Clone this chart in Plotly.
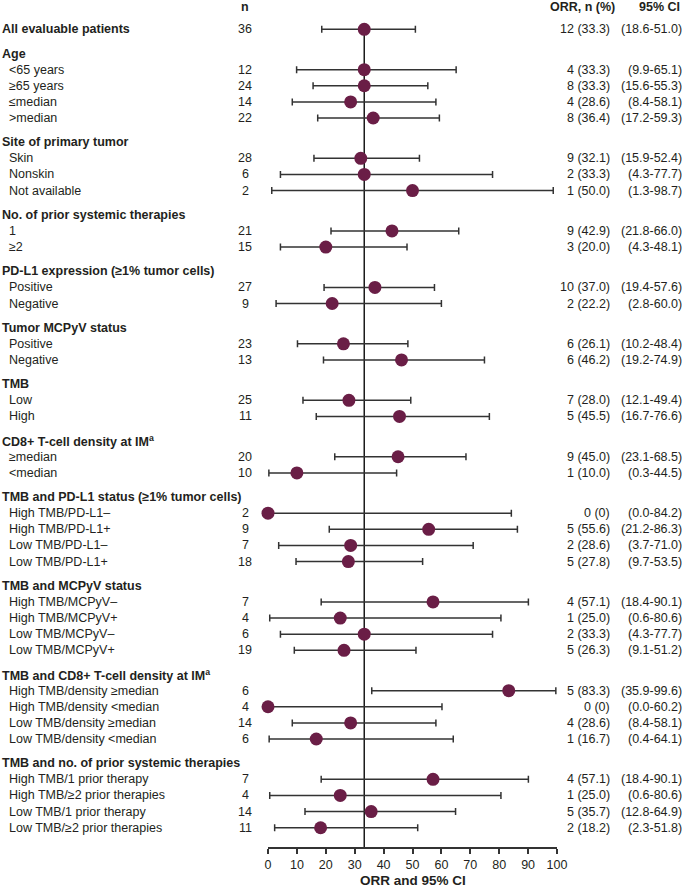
import plotly.graph_objects as go

# ---------------- data ----------------
group_titles = [
    "",
    "Age",
    "Site of primary tumor",
    "No. of prior systemic therapies",
    "PD-L1 expression (≥1% tumor cells)",
    "Tumor MCPyV status",
    "TMB",
    "CD8+ T-cell density at IM<sup>a</sup>",
    "TMB and PD-L1 status (≥1% tumor cells)",
    "TMB and MCPyV status",
    "TMB and CD8+ T-cell density at IM<sup>a</sup>",
    "TMB and no. of prior systemic therapies",
]

row_labels = [
    "All evaluable patients",
    "<65 years", "≥65 years", "≤median", ">median",
    "Skin", "Nonskin", "Not available",
    "1", "≥2",
    "Positive", "Negative",
    "Positive", "Negative",
    "Low", "High",
    "≥median", "<median",
    "High TMB/PD-L1–", "High TMB/PD-L1+", "Low TMB/PD-L1–", "Low TMB/PD-L1+",
    "High TMB/MCPyV–", "High TMB/MCPyV+", "Low TMB/MCPyV–", "Low TMB/MCPyV+",
    "High TMB/density ≥median", "High TMB/density <median",
    "Low TMB/density ≥median", "Low TMB/density <median",
    "High TMB/1 prior therapy", "High TMB/≥2 prior therapies",
    "Low TMB/1 prior therapy", "Low TMB/≥2 prior therapies",
]
row_group = [0, 1, 1, 1, 1, 2, 2, 2, 3, 3, 4, 4, 5, 5, 6, 6, 7, 7,
             8, 8, 8, 8, 9, 9, 9, 9, 10, 10, 10, 10, 11, 11, 11, 11]
row_n = [36, 12, 24, 14, 22, 28, 6, 2, 21, 15, 27, 9, 23, 13, 25, 11, 20, 10,
         2, 9, 7, 18, 7, 4, 6, 19, 6, 4, 14, 6, 7, 4, 14, 11]
row_resp = [12, 4, 8, 4, 8, 9, 2, 1, 9, 3, 10, 2, 6, 6, 7, 5, 9, 1,
            0, 5, 2, 5, 4, 1, 2, 5, 5, 0, 4, 1, 4, 1, 5, 2]
row_orr = [33.3, 33.3, 33.3, 28.6, 36.4, 32.1, 33.3, 50.0, 42.9, 20.0, 37.0, 22.2,
           26.1, 46.2, 28.0, 45.5, 45.0, 10.0,
           0, 55.6, 28.6, 27.8, 57.1, 25.0, 33.3, 26.3,
           83.3, 0, 28.6, 16.7, 57.1, 25.0, 35.7, 18.2]
row_lo = [18.6, 9.9, 15.6, 8.4, 17.2, 15.9, 4.3, 1.3, 21.8, 4.3, 19.4, 2.8,
          10.2, 19.2, 12.1, 16.7, 23.1, 0.3,
          0.0, 21.2, 3.7, 9.7, 18.4, 0.6, 4.3, 9.1,
          35.9, 0.0, 8.4, 0.4, 18.4, 0.6, 12.8, 2.3]
row_hi = [51.0, 65.1, 55.3, 58.1, 59.3, 52.4, 77.7, 98.7, 66.0, 48.1, 57.6, 60.0,
          48.4, 74.9, 49.4, 76.6, 68.5, 44.5,
          84.2, 86.3, 71.0, 53.5, 90.1, 80.6, 77.7, 51.2,
          99.6, 60.2, 58.1, 64.1, 90.1, 80.6, 64.9, 51.8]

overall_orr = 33.3
x_ticks = [0, 10, 20, 30, 40, 50, 60, 70, 80, 90, 100]
x_title = "ORR and 95% CI"
col_headers = ["n", "ORR, n (%)", "95% CI"]

# ---------------- layout helpers ----------------
W, H = 685, 888
PX0, UNIT = 29.3, 16.13          # pixel of first row, pixels per row unit
AXIS_PX = 847                     # pixel of x-axis line
X0_PX, X1_PX = 268, 557           # pixel span of 0..100
FONT = "Liberation Sans, Arial, sans-serif"
TXT = "#231F20"
FS = 12.5

# row positions (units)
row_y, header_y = [], {}
u = 0.0
prev_g = None
for i, g in enumerate(row_group):
    if i == 0:
        u = 0.0
    elif g != prev_g:
        u += 1.5
        header_y[g] = u
        u += 1.0
    else:
        u += 1.0
    row_y.append(u)
    prev_g = g

y_top = -PX0 / UNIT
y_bot = (AXIS_PX - PX0) / UNIT

def px_to_u(p):
    return (p - PX0) / UNIT

fig = go.Figure()

fig.add_trace(go.Scatter(
    x=row_orr, y=row_y, mode="markers",
    marker=dict(color="#6A1E46", size=13, line=dict(width=0)),
    error_x=dict(type="data", symmetric=False,
                 array=[h - o for h, o in zip(row_hi, row_orr)],
                 arrayminus=[o - l for o, l in zip(row_orr, row_lo)],
                 color="#333333", thickness=1.5, width=3.5),
    hoverinfo="skip", showlegend=False, cliponaxis=False,
))

# vertical reference line
fig.add_shape(type="line", xref="x", yref="y", x0=overall_orr, x1=overall_orr,
              y0=row_y[0], y1=y_bot, line=dict(color="#1a1a1a", width=1.5),
              layer="below")

ann = []
def add_text(x_px, y_u, text, anchor="left", bold=False, yref="y"):
    ann.append(dict(
        x=x_px / W, xref="paper", y=y_u, yref=yref,
        text=f"<b>{text}</b>" if bold else text,
        showarrow=False, xanchor=anchor, yanchor="middle",
        font=dict(family=FONT, size=FS, color=TXT), borderpad=0,
    ))

# column headers
hy = px_to_u(7)
add_text(245, hy, col_headers[0], "center", True)
add_text(616, hy, col_headers[1], "right", True)
add_text(681, hy, col_headers[2], "right", True)

# group headers
for g, yy in header_y.items():
    add_text(1, yy, group_titles[g], "left", True)

for i, lab in enumerate(row_labels):
    yy = row_y[i]
    if row_group[i] == 0:
        add_text(1, yy, lab, "left", True)
    else:
        add_text(8, yy, lab, "left", False)
    add_text(245, yy, str(row_n[i]), "center")
    orr_s = "0" if row_orr[i] == 0 else f"{row_orr[i]:.1f}"
    add_text(611, yy, f"{row_resp[i]} ({orr_s})", "right")
    add_text(683, yy, f"({row_lo[i]:.1f}-{row_hi[i]:.1f})", "right")

# x-axis title
ann.append(dict(x=(X0_PX + X1_PX) / 2 / W, xref="paper", y=(H - 880) / H, yref="paper",
                text=f"<b>{x_title}</b>", showarrow=False, xanchor="center", yanchor="middle",
                font=dict(family=FONT, size=13.5, color=TXT)))

fig.update_layout(
    autosize=True, height=H, margin=dict(l=0, r=0, t=0, b=0, autoexpand=False),
    paper_bgcolor="white", plot_bgcolor="white",
    font=dict(family=FONT, size=FS, color=TXT),
    annotations=ann,
    xaxis=dict(domain=[X0_PX / W, X1_PX / W], range=[0, 100], tickvals=x_ticks,
               ticks="outside", ticklen=5, tickwidth=1.5, tickcolor="#333333",
               showline=True, linewidth=1.5, linecolor="#333333",
               showgrid=False, zeroline=False,
               tickfont=dict(family=FONT, size=FS, color=TXT), fixedrange=True),
    yaxis=dict(domain=[(H - AXIS_PX) / H, 1], range=[y_bot, y_top], visible=False,
               showgrid=False, zeroline=False, fixedrange=True),
)

fig.write_html("out.html", config={"displayModeBar": False, "responsive": True},
               default_width="100%", default_height=f"{H}px",
               post_script="document.body.style.margin='0';document.body.style.overflow='hidden';"
                           "window.dispatchEvent(new Event('resize'));")
